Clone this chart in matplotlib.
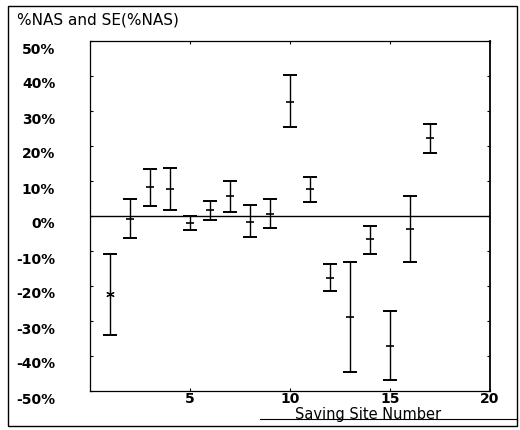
import numpy as np
import matplotlib
matplotlib.use('Agg')
import matplotlib.pyplot as plt
from matplotlib.transforms import ScaledTranslation
from matplotlib.patches import Rectangle
from matplotlib.lines import Line2D

# site number, %NAS and the upper / lower ends of the SE bars
sites = np.arange(1, 18)
nas_mean = [-22.3, -0.9, 8.2, 7.7, -2.0, 1.7, 5.6, -1.6, 0.6, 32.5,
            7.7, -17.8, -28.8, -6.7, -37.0, -3.8, 22.4]
nas_high = [-10.9, 5.0, 13.3, 13.6, 0.0, 4.3, 10.1, 3.1, 4.8, 40.2,
            11.2, -13.7, -13.2, -2.8, -27.0, 5.8, 26.4]
nas_low = [-34.0, -6.4, 2.9, 1.6, -4.0, -1.1, 1.1, -5.9, -3.5, 25.3,
           3.9, -21.3, -44.6, -10.9, -46.9, -13.2, 18.0]
yticks = [50, 40, 30, 20, 10, 0, -10, -20, -30, -40, -50]
xticks = [5, 10, 15, 20]

mean = np.array(nas_mean)
err = [mean - np.array(nas_low), np.array(nas_high) - mean]

fig = plt.figure(figsize=(5.2, 4.3), dpi=100)
ax = fig.add_axes([90/520, 39/430, 400/520, 350/430])

ax.errorbar(sites, mean, yerr=err, fmt='none', ecolor='black',
            elinewidth=1.0, capsize=5.2, capthick=1.4)
ax.plot(sites[1:], mean[1:], ls='none', marker='_', ms=6, mew=1.2, color='black')
ax.plot(sites[:1], mean[:1], ls='none', marker=(6, 2, 0), ms=6, mew=0.8, color='black')
ax.axhline(0, color='black', lw=1.0)

ax.set_xlim(0, 20)
ax.set_ylim(-50, 50)
ax.set_xticks(xticks)
ax.set_xticklabels([str(t) for t in xticks])
ax.set_yticks(yticks)
ax.set_yticklabels(['%d%%' % t for t in yticks])
ax.tick_params(direction='in', length=2.5, width=0.8, top=True, right=True,
               labelsize=10)
ax.tick_params(axis='y', pad=25)
ax.tick_params(axis='x', pad=1)
for lab in ax.get_yticklabels() + ax.get_xticklabels():
    lab.set_fontweight('bold')
for lab in ax.get_yticklabels():
    lab.set_transform(lab.get_transform() + ScaledTranslation(0, -0.07, fig.dpi_scale_trans))
for s in ax.spines.values():
    s.set_linewidth(0.9)
ax.spines['right'].set_linewidth(1.3)

fig.text(17/520, 1 - 20/430, '%NAS and SE(%NAS)', fontsize=11, va='center', ha='left')
fig.text(368/520, 1 - 419/430, 'Saving Site Number', fontsize=10.5, va='baseline', ha='center')

# outer frame and the rule under the axis title
fig.patches.append(Rectangle((8/520, 4/430), 509/520, 420/430, transform=fig.transFigure,
                             fill=False, edgecolor='black', lw=1.0))
fig.lines.append(Line2D([260/520, 517/520], [1 - 419/430, 1 - 419/430],
                        transform=fig.transFigure, color='black', lw=0.8))

plt.savefig('out.png', dpi=100)
